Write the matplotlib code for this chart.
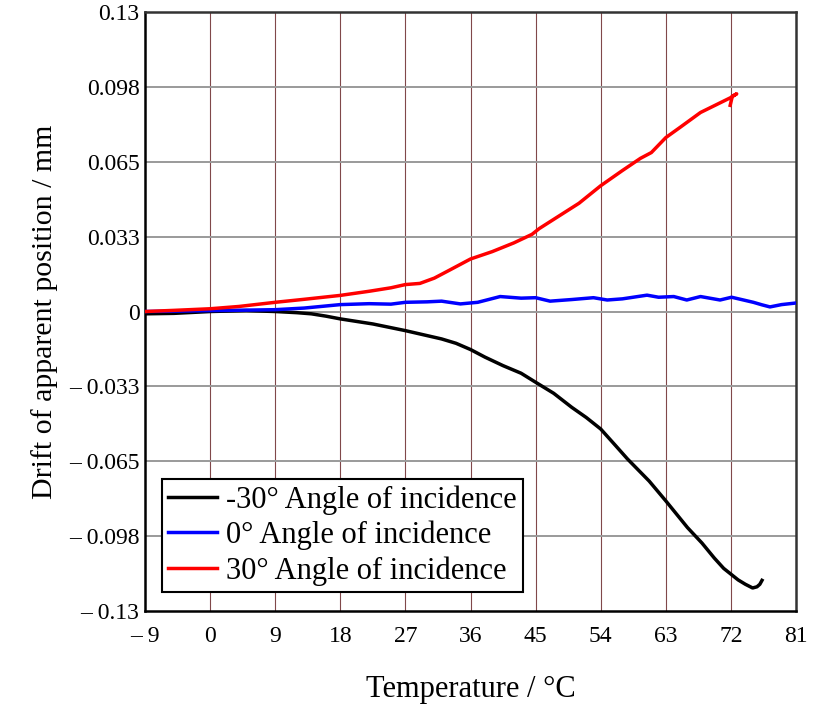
import matplotlib
matplotlib.use("Agg")
import matplotlib.pyplot as plt

plt.rcParams['font.family'] = ['Liberation Serif', 'DejaVu Serif']

# -30 deg angle of incidence (black)
neg30_x = [-9, -5, 0, 5, 9, 12, 14, 16, 18, 22.5, 27, 32, 34, 36, 38, 40.5, 43, 45,
           47.5, 50, 52, 54, 56, 57.7, 60.7, 63, 66, 68, 69.7, 71, 72, 73, 74, 75,
           75.6, 76, 76.3]
neg30_y = [-0.001, -0.0008, 0.0, 0.0004, 0.0, -0.0005, -0.001, -0.002, -0.0032,
           -0.0054, -0.0083, -0.0119, -0.0138, -0.0165, -0.0198, -0.0235, -0.0268,
           -0.0307, -0.0355, -0.0416, -0.046, -0.051, -0.058, -0.064, -0.0736,
           -0.0822, -0.0938, -0.1005, -0.107, -0.1115, -0.114, -0.1165, -0.1184,
           -0.120, -0.1195, -0.1184, -0.1167]

# 0 deg (blue)
zero_x = [-9, -4, 0, 5, 9, 13, 18, 22, 25, 27, 30, 32, 34.6, 37, 40.1, 43, 45, 47,
          50, 53, 54.9, 57, 60.4, 62, 64.1, 65.9, 67.8, 70.5, 72.1, 75.1, 76.3,
          77.4, 79, 81]
zero_y = [0.0, 0.0002, 0.0004, 0.0006, 0.0008, 0.0015, 0.003, 0.0034, 0.0032,
          0.004, 0.0042, 0.0045, 0.0033, 0.004, 0.0065, 0.0058, 0.006, 0.0045,
          0.0052, 0.006, 0.005, 0.0055, 0.0071, 0.0062, 0.0065, 0.005, 0.0065,
          0.005, 0.0062, 0.004, 0.0029, 0.002, 0.003, 0.0037]

# +30 deg (red)
pos30_x = [-9, -5, 0, 4, 9, 13, 18, 22, 25, 27, 29, 31, 33, 36, 39, 42, 44.5, 45.5,
           48, 51, 54, 57, 59.5, 61, 63, 65, 67.8, 70, 72, 72.8, 72.2, 71.9]
pos30_y = [0.0, 0.0005, 0.0012, 0.0022, 0.004, 0.0053, 0.007, 0.0088, 0.0103,
           0.0117, 0.0122, 0.0145, 0.0178, 0.0228, 0.026, 0.0298, 0.0335, 0.036,
           0.041, 0.047, 0.0546, 0.0612, 0.0665, 0.069, 0.0755, 0.080, 0.0864,
           0.0898, 0.0929, 0.0945, 0.0935, 0.0895]

xticks = [-9, 0, 9, 18, 27, 36, 45, 54, 63, 72, 81]
xlabels = ['\u2013 9', '0', '9', '18', '27', '36', '45', '54', '63', '72', '81']
yticks = [-0.13, -0.0975, -0.065, -0.0325, 0, 0.0325, 0.065, 0.0975, 0.13]
ylabels = ['\u2013 0.13', '\u2013 0.098', '\u2013 0.065', '\u2013 0.033', '0',
           '0.033', '0.065', '0.098', '0.13']

fig = plt.figure(figsize=(8.17, 7.08), dpi=100)
ax = fig.add_axes([0.1775, 0.137, 0.7968, 0.846])

ax.plot(neg30_x, neg30_y, color='black', lw=2.5, label='-30\u00b0 Angle of incidence', zorder=3)
ax.plot(zero_x, zero_y, color='#0000ff', lw=2.5, label='0\u00b0 Angle of incidence', zorder=3)
ax.plot(pos30_x, pos30_y, color='#ff0000', lw=2.5, label='30\u00b0 Angle of incidence', zorder=4)

ax.set_xlim(-9, 81)
ax.set_ylim(-0.13, 0.13)
ax.set_xticks(xticks)
ax.set_xticklabels(xlabels)
ax.set_yticks(yticks)
ax.set_yticklabels(ylabels)
ax.tick_params(length=0, labelsize=17)
ax.tick_params(axis='x', pad=11)
ax.tick_params(axis='y', pad=4)

for x in xticks[1:-1]:
    ax.axvline(x, color='#80484a', lw=0.8, zorder=1)
for y in yticks[1:-1]:
    ax.axhline(y, color='#9a9a9a', lw=1.4, zorder=1)

for s in ['left', 'bottom']:
    ax.spines[s].set_color('black')
    ax.spines[s].set_linewidth(1.8)
for s in ['top', 'right']:
    ax.spines[s].set_color('#333333')
    ax.spines[s].set_linewidth(1.8)

ax.set_xlabel('Temperature / \u00b0C', fontsize=22, labelpad=20)
ax.set_ylabel('Drift of apparent position / mm', fontsize=21.5, labelpad=8)

leg = ax.legend(loc='lower left', bbox_to_anchor=(0.026, 0.032), borderaxespad=0,
                fontsize=22, fancybox=False, framealpha=1, edgecolor='black',
                handlelength=1.6, handletextpad=0.3, labelspacing=0.2,
                borderpad=0.2)
leg.get_frame().set_linewidth(1.5)

fig.savefig('out.png', dpi=100)
